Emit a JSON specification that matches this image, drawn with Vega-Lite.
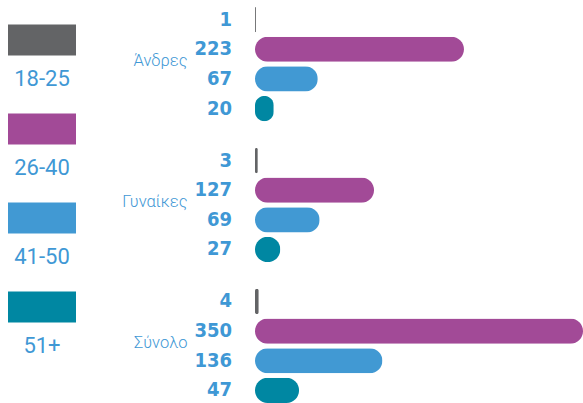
{
  "$schema": "https://vega.github.io/schema/vega-lite/v6.json",
  "padding": {"left": 0, "top": 7, "right": 0, "bottom": 0},
  "autosize": {"type": "pad"},
  "background": "white",
  "bounds": "flush",
  "spacing": 171,
  "config": {"view": {"stroke": null}},
  "datasets": {
    "bars": [
      {"group": "Άνδρες", "age": "18-25", "value": 1},
      {"group": "Άνδρες", "age": "26-40", "value": 223},
      {"group": "Άνδρες", "age": "41-50", "value": 67},
      {"group": "Άνδρες", "age": "51+", "value": 20},
      {"group": "Γυναίκες", "age": "18-25", "value": 3},
      {"group": "Γυναίκες", "age": "26-40", "value": 127},
      {"group": "Γυναίκες", "age": "41-50", "value": 69},
      {"group": "Γυναίκες", "age": "51+", "value": 27},
      {"group": "Σύνολο", "age": "18-25", "value": 4},
      {"group": "Σύνολο", "age": "26-40", "value": 350},
      {"group": "Σύνολο", "age": "41-50", "value": 136},
      {"group": "Σύνολο", "age": "51+", "value": 47}
    ],
    "ages": [
      {"age": "18-25"}, {"age": "26-40"}, {"age": "41-50"}, {"age": "51+"}
    ]
  },
  "hconcat": [
    {
      "width": 84,
      "height": 333,
      "data": {"name": "ages"},
      "encoding": {
        "y": {"field": "age", "type": "ordinal", "axis": null, "sort": null, "scale": {"padding": 0.371}}
      },
      "layer": [
        {
          "mark": {"type": "point", "shape": "M-1,-0.456H1V0.456H-1Z", "size": 4624, "filled": true, "opacity": 1},
          "encoding": {
            "color": {"field": "age", "type": "nominal", "legend": null,
              "scale": {"domain": ["18-25", "26-40", "41-50", "51+"], "range": ["#636466", "#a24a97", "#4199d3", "#0087a2"]}}
          }
        },
        {
          "mark": {"type": "text", "dy": 39, "fontSize": 22, "font": "Roboto", "color": "#3f98d5"},
          "encoding": {"text": {"field": "age"}}
        }
      ]
    },
    {
      "width": 328,
      "height": 396,
      "data": {"name": "bars"},
      "encoding": {
        "y": {"field": "group", "type": "nominal", "sort": ["Άνδρες", "Γυναίκες", "Σύνολο"],
          "scale": {"paddingInner": 0.19, "paddingOuter": 0},
          "axis": {"title": null, "domain": false, "ticks": false, "labelPadding": 68, "labelFont": "Roboto", "labelFontSize": 16.5, "labelFontWeight": 300, "labelColor": "#3f98d5", "labelOffset": -3}},
        "yOffset": {"field": "age", "type": "nominal", "sort": ["18-25", "26-40", "41-50", "51+"],
          "scale": {"paddingInner": 0.15, "paddingOuter": 0}}
      },
      "layer": [
        {
          "mark": {"type": "bar", "cornerRadius": 12.5},
          "encoding": {
            "x": {"field": "value", "type": "quantitative", "scale": {"domain": [0, 350], "nice": false}, "axis": null},
            "color": {"field": "age", "type": "nominal", "legend": null,
              "scale": {"domain": ["18-25", "26-40", "41-50", "51+"], "range": ["#636466", "#a24a97", "#4199d3", "#0087a2"]}}
          }
        },
        {
          "mark": {"type": "text", "align": "right", "baseline": "middle", "dx": -23, "fontSize": 20, "fontWeight": "bold", "font": "DejaVu Sans Condensed", "color": "#3f98d5"},
          "encoding": {
            "x": {"datum": 0, "type": "quantitative"},
            "text": {"field": "value", "type": "quantitative"}
          }
        }
      ]
    }
  ]
}
